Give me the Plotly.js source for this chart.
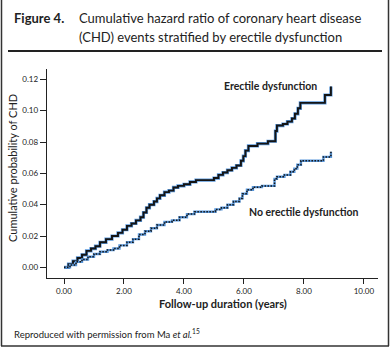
<!DOCTYPE html>
<html>
<head>
<meta charset="utf-8">
<script src="https://cdn.plot.ly/plotly-3.0.1.min.js"></script>
<style>html,body{margin:0;padding:0;background:#fff;}#chart{width:390px;height:348px;}</style>
</head>
<body>
<div id="chart"></div>
<script>
// Erectile dysfunction group (step curve)
const edTime = [0, 0.15, 0.3, 0.45, 0.6, 0.75, 0.9, 1.05, 1.2, 1.4, 1.6, 1.8, 1.95, 2.1, 2.25, 2.4, 2.55, 2.65, 2.75, 2.85, 3.0, 3.1, 3.2, 3.35, 3.5, 3.65, 3.8, 4.0, 4.2, 4.4, 5.0, 5.15, 5.3, 5.45, 5.6, 5.75, 5.9, 5.98, 6.05, 6.15, 6.45, 6.8, 7.05, 7.1, 7.3, 7.45, 7.6, 7.7, 7.8, 7.88, 8.7, 8.9];
const edValue = [0, 0.002, 0.004, 0.006, 0.008, 0.0105, 0.012, 0.0135, 0.016, 0.018, 0.020, 0.022, 0.024, 0.0265, 0.028, 0.030, 0.032, 0.035, 0.038, 0.040, 0.042, 0.044, 0.046, 0.048, 0.049, 0.051, 0.052, 0.053, 0.0545, 0.0557, 0.057, 0.059, 0.0605, 0.062, 0.0635, 0.065, 0.068, 0.071, 0.0745, 0.0775, 0.079, 0.0805, 0.087, 0.0905, 0.0915, 0.093, 0.095, 0.098, 0.1015, 0.105, 0.110, 0.1155];
// No erectile dysfunction group
const noEdTime = [0, 0.2, 0.4, 0.6, 0.8, 1.0, 1.2, 1.45, 1.65, 1.85, 2.1, 2.3, 2.5, 2.7, 2.9, 3.1, 3.35, 3.6, 3.85, 4.1, 4.35, 5.05, 5.25, 5.45, 5.65, 5.85, 5.95, 6.1, 6.3, 6.6, 7.02, 7.1, 7.35, 7.55, 7.68, 7.78, 7.9, 8.65, 8.9];
const noEdValue = [0, 0.0015, 0.0035, 0.005, 0.0068, 0.0085, 0.010, 0.011, 0.012, 0.014, 0.016, 0.018, 0.021, 0.023, 0.025, 0.027, 0.029, 0.030, 0.032, 0.034, 0.0355, 0.037, 0.038, 0.040, 0.042, 0.044, 0.047, 0.0495, 0.0512, 0.052, 0.0565, 0.0578, 0.059, 0.061, 0.063, 0.0655, 0.068, 0.0705, 0.0738];
const xTicks = [0, 2, 4, 6, 8, 10];
const yTicks = [0, 0.02, 0.04, 0.06, 0.08, 0.10, 0.12];

const FONT = 'Lato, "Open Sans", sans-serif';
const HALO = '#5a98dc';
const DARK = '#141414';

const traces = [
  {x: edTime, y: edValue, mode: 'lines', line: {shape: 'hv', color: HALO, width: 3.2}, hoverinfo: 'skip'},
  {x: edTime, y: edValue, mode: 'lines', line: {shape: 'hv', color: DARK, width: 1.9}},
  {x: noEdTime, y: noEdValue, mode: 'lines', line: {shape: 'hv', color: HALO, width: 2.4}, hoverinfo: 'skip'},
  {x: noEdTime, y: noEdValue, mode: 'lines', line: {shape: 'hv', color: DARK, width: 1.5, dash: '1.5px,1.5px'}}
];

const px = v => (v - 47) / 331;
const py = v => (278 - v) / 209;

const layout = {
  width: 390, height: 348,
  margin: {l: 47, r: 12, t: 69, b: 70},
  paper_bgcolor: '#fff', plot_bgcolor: '#fff',
  showlegend: false,
  font: {family: FONT, color: '#222'},
  xaxis: {
    range: [-0.567, 10.47], tickvals: xTicks, tickformat: '.2f',
    showline: true, linecolor: '#222', linewidth: 1.3, ticks: 'outside', ticklen: 5, tickcolor: '#222', tickwidth: 1,
    showgrid: false, zeroline: false, tickfont: {size: 8, family: FONT, color: '#222'}
  },
  yaxis: {
    range: [-0.0068, 0.1266], tickvals: yTicks, tickformat: '.2f',
    showline: true, linecolor: '#222', linewidth: 1.3, ticks: 'outside', ticklen: 6, tickcolor: '#222', tickwidth: 1,
    showgrid: false, zeroline: false, tickfont: {size: 8, family: FONT, color: '#222'}
  },
  shapes: [
    {type: 'line', xref: 'paper', yref: 'paper', x0: px(1.5), x1: px(1.5), y0: py(-2), y1: py(346), line: {color: '#333', width: 1.5}},
    {type: 'line', xref: 'paper', yref: 'paper', x0: px(388.5), x1: px(388.5), y0: py(-2), y1: py(346), line: {color: '#333', width: 1.5}},
    {type: 'line', xref: 'paper', yref: 'paper', x0: px(1), x1: px(389), y0: py(346), y1: py(346), line: {color: '#333', width: 1.5}},
    {type: 'line', xref: 'paper', yref: 'paper', x0: px(8), x1: px(382), y0: py(51), y1: py(51), line: {color: '#222', width: 2}}
  ],
  annotations: [
    {xref: 'paper', yref: 'paper', x: px(12), y: py(18), xanchor: 'left', yanchor: 'middle', showarrow: false,
     text: '<b>Figure 4.</b>', font: {size: 13, family: FONT, color: '#222'}},
    {xref: 'paper', yref: 'paper', x: px(77), y: py(18), xanchor: 'left', yanchor: 'middle', showarrow: false,
     text: 'Cumulative hazard ratio of coronary heart disease', font: {size: 13, family: FONT, color: '#222'}},
    {xref: 'paper', yref: 'paper', x: px(77), y: py(37), xanchor: 'left', yanchor: 'middle', showarrow: false,
     text: '(CHD) events stratified by erectile dysfunction', font: {size: 13, family: FONT, color: '#222'}},
    {xref: 'paper', yref: 'paper', x: px(12), y: py(168), xanchor: 'center', yanchor: 'middle', showarrow: false, textangle: -90,
     text: 'Cumulative probability of CHD', font: {size: 11, family: FONT, color: '#222'}},
    {xref: 'paper', yref: 'paper', x: px(223), y: py(303), xanchor: 'center', yanchor: 'middle', showarrow: false,
     text: '<b>Follow-up duration (years)</b>', font: {size: 11, family: FONT, color: '#222'}},
    {xref: 'x', yref: 'y', x: 6.89, y: 0.1157, xanchor: 'center', yanchor: 'middle', showarrow: false,
     text: '<b>Erectile dysfunction</b>', font: {size: 10.5, family: FONT, color: '#222'}},
    {xref: 'x', yref: 'y', x: 8.0, y: 0.0353, xanchor: 'center', yanchor: 'middle', showarrow: false,
     text: '<b>No erectile dysfunction</b>', font: {size: 10.5, family: FONT, color: '#222'}},
    {xref: 'paper', yref: 'paper', x: px(12), y: py(333), xanchor: 'left', yanchor: 'middle', showarrow: false,
     text: 'Reproduced with permission from Ma <i>et al.</i><sup>15</sup>', font: {size: 9.5, family: FONT, color: '#222'}}
  ]
};

Plotly.newPlot('chart', traces, layout, {displayModeBar: false, staticPlot: true});
</script>
</body>
</html>
